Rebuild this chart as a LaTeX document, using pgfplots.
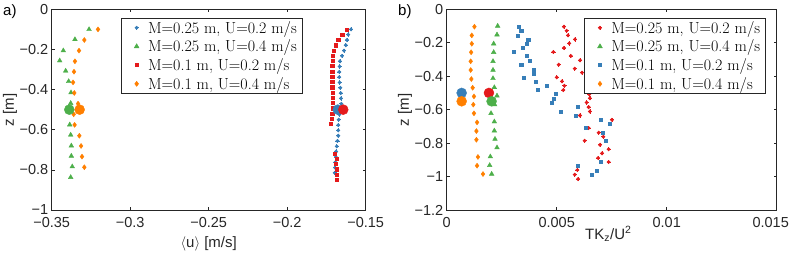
\documentclass[border=0pt]{standalone}
\usepackage{fontspec}
\usepackage{pgfplots}
\pgfplotsset{compat=1.18}
\newfontfamily\arialf{Liberation Sans}
\definecolor{cred}{HTML}{E41A1C}
\definecolor{cblue}{HTML}{377EB8}
\definecolor{cgreen}{HTML}{4DAF4A}
\definecolor{corange}{HTML}{FF7F00}
\definecolor{axc}{gray}{0.15}
\pgfdeclareplotmark{dotplus}{%
  \pgfpathcircle{\pgfpointorigin}{0.7\pgfplotmarksize}\pgfusepathqfillstroke
  \pgfpathmoveto{\pgfqpoint{-\pgfplotmarksize}{0pt}}\pgfpathlineto{\pgfqpoint{\pgfplotmarksize}{0pt}}%
  \pgfpathmoveto{\pgfqpoint{0pt}{-\pgfplotmarksize}}\pgfpathlineto{\pgfqpoint{0pt}{\pgfplotmarksize}}%
  \pgfusepathqstroke}
\pgfplotsset{
  myax/.style={
    anchor=south west, scale only axis, height=200.7bp,
    axis line style={axc, line width=0.5bp},
    tick style={axc, line width=0.5bp},
    tick align=inside, major tick length=3bp,
    xtick pos=both, ytick pos=both, scaled ticks=false,
    ticklabel style={font=\arialf\fontsize{14.5bp}{16bp}\selectfont, text=axc},
    xticklabel style={yshift=-4bp},
    /pgf/number format/assume math mode=true,
    legend cell align=left,
    legend image code/.code={\path (0bp,0bp) (21bp,0bp); \draw plot coordinates {(12bp,0bp)};},
    legend style={font=\fontsize{16bp}{18bp}\selectfont, draw=axc, line width=0.5bp,
      anchor=north west, inner xsep=3bp, inner ysep=0.5bp, row sep=1.2bp},
  },
  sA/.style={only marks, mark=dotplus, mark size=2.1bp, line width=0.8bp, color=cblue},
  sB/.style={only marks, mark=triangle*, mark size=2.7bp, color=cgreen},
  sC/.style={only marks, mark=square*, mark size=1.6bp, color=cred},
  sD/.style={only marks, mark=diamond*, mark size=2.5bp, color=corange},
  big/.style={only marks, mark=*, mark size=5bp, color=#1, forget plot},
}
\begin{document}
\begin{tikzpicture}
\useasboundingbox (0,0) rectangle (789bp,260bp);
% ---------------- panel a
\begin{axis}[myax, at={(51.7bp,50bp)}, width=314bp,
  xmin=-0.35, xmax=-0.15, ymin=-1, ymax=0,
  xtick={-0.35,-0.3,-0.25,-0.2,-0.15}, xticklabels={−0.35,−0.3,−0.25,−0.2,−0.15},
  ytick={-1,-0.8,-0.6,-0.4,-0.2,0}, yticklabels={−1,−0.8,−0.6,−0.4,−0.2,0},
  legend style={at={(rel axis cs:0.2207,0.955)}}]
\addplot[sA] coordinates {
(-0.1594,-0.100) (-0.1611,-0.126) (-0.1619,-0.153) (-0.1627,-0.179) (-0.1638,-0.206)
(-0.1651,-0.232) (-0.1664,-0.259) (-0.1666,-0.285) (-0.1668,-0.312) (-0.1668,-0.338)
(-0.1666,-0.365) (-0.1662,-0.391) (-0.1659,-0.418) (-0.1657,-0.444) (-0.1655,-0.471)
(-0.1660,-0.497) (-0.1668,-0.524) (-0.1672,-0.550) (-0.1675,-0.577) (-0.1675,-0.603)
(-0.1675,-0.630) (-0.1680,-0.656) (-0.1684,-0.683) (-0.1688,-0.709) (-0.1690,-0.736)
(-0.1693,-0.762) (-0.1695,-0.789) (-0.1697,-0.815)};
\addlegendentry{M=0.25 m, U=0.2 m/s}
\addplot[sB] coordinates {
(-0.3262,-0.100) (-0.3352,-0.150) (-0.3426,-0.206) (-0.3449,-0.256) (-0.3411,-0.307)
(-0.3392,-0.359) (-0.3377,-0.415) (-0.3379,-0.468) (-0.3385,-0.575) (-0.3379,-0.626)
(-0.3375,-0.680) (-0.3375,-0.731) (-0.3369,-0.784) (-0.3379,-0.837)};
\addlegendentry{M=0.25 m, U=0.4 m/s}
\addplot[sC] coordinates {
(-0.1621,-0.100) (-0.1650,-0.126) (-0.1675,-0.152) (-0.1693,-0.179) (-0.1705,-0.205)
(-0.1710,-0.231) (-0.1712,-0.257) (-0.1713,-0.283) (-0.1713,-0.310) (-0.1713,-0.336)
(-0.1713,-0.362) (-0.1713,-0.388) (-0.1712,-0.414) (-0.1711,-0.441) (-0.1711,-0.467)
(-0.1712,-0.493) (-0.1714,-0.519) (-0.1717,-0.545) (-0.1721,-0.571)
(-0.1696,-0.718) (-0.1687,-0.744) (-0.1690,-0.771) (-0.1683,-0.797) (-0.1684,-0.823)
(-0.1687,-0.850)};
\addlegendentry{M=0.1 m, U=0.2 m/s}
\addplot[sD] coordinates {
(-0.3205,-0.100) (-0.3292,-0.153) (-0.3326,-0.206) (-0.3352,-0.259) (-0.3358,-0.311)
(-0.3364,-0.364) (-0.3356,-0.417) (-0.3332,-0.470) (-0.3360,-0.523) (-0.3354,-0.576)
(-0.3324,-0.630) (-0.3313,-0.681) (-0.3307,-0.734) (-0.3292,-0.787)};
\addlegendentry{M=0.1 m, U=0.4 m/s}
\addplot[big=cblue] coordinates {(-0.1678,-0.5)};
\addplot[big=cred] coordinates {(-0.1643,-0.5)};
\addplot[big=cgreen] coordinates {(-0.3388,-0.5)};
\addplot[big=corange] coordinates {(-0.3322,-0.5)};
\end{axis}
% ---------------- panel b
\begin{axis}[myax, at={(446.7bp,50bp)}, width=330bp,
  xmin=0, xmax=0.015, ymin=-1.2, ymax=0,
  xtick={0,0.005,0.01,0.015}, xticklabels={0,0.005,0.01,{\kern-12bp 0.015}},
  ytick={-1.2,-1,-0.8,-0.6,-0.4,-0.2,0}, yticklabels={−1.2,−1,−0.8,−0.6,−0.4,−0.2,0},
  legend style={at={(rel axis cs:0.417,0.955)}}]
\addplot[sA, color=cred] coordinates {
(0.00533,-0.104) (0.00545,-0.128) (0.00551,-0.156) (0.00583,-0.180) (0.00557,-0.204)
(0.00533,-0.231) (0.00485,-0.255) (0.00564,-0.279) (0.00606,-0.305) (0.00509,-0.331)
(0.00582,-0.355) (0.00615,-0.379) (0.00500,-0.407) (0.00524,-0.431) (0.00535,-0.457)
(0.00530,-0.483) (0.00648,-0.509) (0.00651,-0.532) (0.00636,-0.557) (0.00645,-0.585)
(0.00651,-0.611) (0.00606,-0.635) (0.00751,-0.661) (0.00645,-0.710) (0.00691,-0.738)
(0.00712,-0.762) (0.00627,-0.786) (0.00697,-0.810) (0.00736,-0.837) (0.00706,-0.861)
(0.00688,-0.889) (0.00736,-0.913) (0.00594,-0.961) (0.00582,-0.989) (0.00597,-1.015)};
\addlegendentry{M=0.25 m, U=0.2 m/s}
\addplot[sB] coordinates {
(0.002317,-0.100) (0.002286,-0.152) (0.002135,-0.206) (0.002135,-0.257) (0.002105,-0.311)
(0.002105,-0.363) (0.002105,-0.413) (0.002165,-0.467) (0.002286,-0.517) (0.00218,-0.570)
(0.002014,-0.622) (0.002165,-0.672) (0.002165,-0.726) (0.002195,-0.776) (0.002286,-0.827)
(0.001983,-0.881) (0.001953,-0.933) (0.002044,-0.985)};
\addlegendentry{M=0.25 m, U=0.4 m/s}
\addplot[sC, color=cblue] coordinates {
(0.00327,-0.104) (0.00339,-0.128) (0.00321,-0.156) (0.00370,-0.180) (0.00364,-0.208)
(0.00345,-0.231) (0.00306,-0.255) (0.00364,-0.279) (0.00376,-0.307) (0.00339,-0.331)
(0.00394,-0.359) (0.00394,-0.383) (0.00351,-0.407) (0.00406,-0.435) (0.00455,-0.459)
(0.00412,-0.483) (0.00494,-0.507) (0.00485,-0.535) (0.00479,-0.559) (0.00594,-0.582)
(0.00518,-0.610) (0.00585,-0.634) (0.00700,-0.662) (0.00742,-0.686) (0.00633,-0.710)
(0.00709,-0.738) (0.00724,-0.786) (0.00700,-0.913) (0.00594,-0.937) (0.00682,-0.965)
(0.00660,-0.989)};
\addlegendentry{M=0.1 m, U=0.2 m/s}
\addplot[sD] coordinates {
(0.00126,-0.104) (0.00114,-0.156) (0.00114,-0.206) (0.00111,-0.257) (0.00109,-0.311)
(0.00109,-0.363) (0.00112,-0.417) (0.00118,-0.469) (0.00124,-0.521) (0.00121,-0.570)
(0.00124,-0.622) (0.00138,-0.676) (0.00135,-0.728) (0.00135,-0.780) (0.00142,-0.883)
(0.00138,-0.935) (0.00165,-0.985)};
\addlegendentry{M=0.1 m, U=0.4 m/s}
\addplot[big=cblue] coordinates {(0.00068,-0.5)};
\addplot[big=corange] coordinates {(0.00068,-0.55)};
\addplot[big=cred] coordinates {(0.00192,-0.5)};
\addplot[big=cgreen] coordinates {(0.00204,-0.55)};
\end{axis}
% ---------------- labels
\node[font=\arialf\fontsize{15bp}{17bp}\selectfont, text=axc, rotate=90, anchor=center] at (10bp,150bp) {z [m]};
\node[font=\arialf\fontsize{15bp}{17bp}\selectfont, text=axc, rotate=90, anchor=center] at (405bp,150bp) {z [m]};
\node[font=\arialf\fontsize{15bp}{17bp}\selectfont, text=axc, anchor=base] at (208.7bp,13bp) {$\langle$u$\rangle$ [m/s]};
\node[font=\arialf\fontsize{15bp}{17bp}\selectfont, text=axc, anchor=base] at (608.3bp,21bp) {TK\textsubscript{z}/U\textsuperscript{2}};
\node[font=\arialf\fontsize{15bp}{17bp}\selectfont, anchor=base west, inner sep=0pt] at (3bp,244bp) {a)};
\node[font=\arialf\fontsize{15bp}{17bp}\selectfont, anchor=base west, inner sep=0pt] at (398bp,244bp) {b)};
\end{tikzpicture}
\end{document}
